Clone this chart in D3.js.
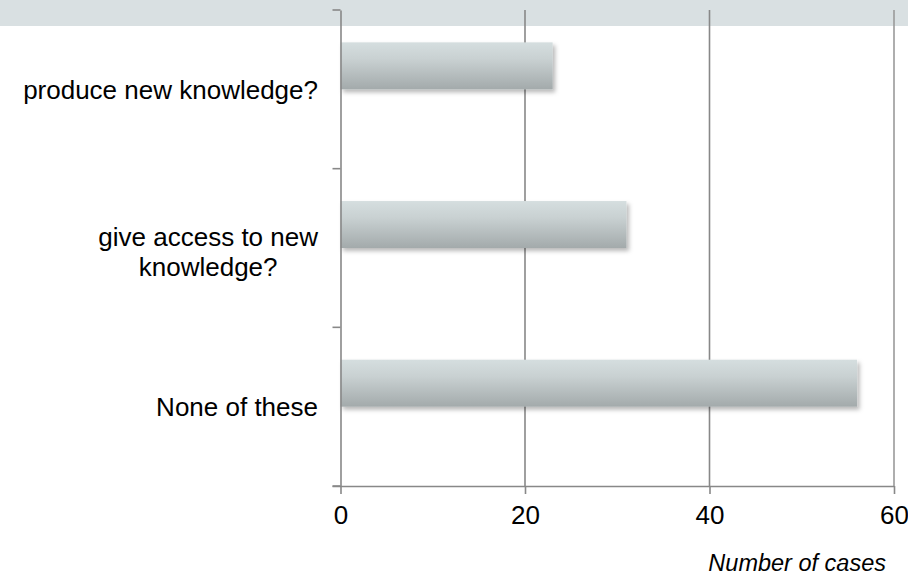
<!DOCTYPE html>
<html>
<head>
<meta charset="utf-8">
<script src="https://cdn.jsdelivr.net/npm/d3@7"></script>
<style>
  html, body { margin: 0; padding: 0; background: #fff; }
  svg { display: block; font-family: "Liberation Sans", Arial, sans-serif; }
</style>
</head>
<body>
<svg id="chart" width="908" height="576"></svg>
<script>
// Survey answers and how many cases gave each
const categories = ["produce new knowledge?", "give access to new knowledge?", "None of these"];
const cases = [23, 31, 56];
const xTicks = [0, 20, 40, 60];
const xTitle = "Number of cases";

const W = 908, H = 576;
const margin = { top: 10, right: 14, bottom: 90, left: 340.5 };

const svg = d3.select("#chart");

// pale header band across the top
svg.append("rect")
  .attr("x", 0).attr("y", 0)
  .attr("width", W).attr("height", 26)
  .attr("fill", "#d9e0e2");

const defs = svg.append("defs");
const grad = defs.append("linearGradient")
  .attr("id", "barFill").attr("x1", 0).attr("y1", 0).attr("x2", 0).attr("y2", 1);
grad.append("stop").attr("offset", "0%").attr("stop-color", "#d5dedf");
grad.append("stop").attr("offset", "35%").attr("stop-color", "#c9d1d2");
grad.append("stop").attr("offset", "100%").attr("stop-color", "#a3aaab");

const shadow = defs.append("filter").attr("id", "barShadow")
  .attr("x", "-5%").attr("y", "-20%").attr("width", "115%").attr("height", "160%");
shadow.append("feDropShadow")
  .attr("dx", 2.5).attr("dy", 3).attr("stdDeviation", 2)
  .attr("flood-color", "#000").attr("flood-opacity", 0.28);

const x = d3.scaleLinear()
  .domain([0, 60])
  .range([margin.left, W - margin.right]);

const y = d3.scaleBand()
  .domain(categories)
  .range([margin.top, H - margin.bottom])
  .padding(0);

const axisColor = "#888888";

// vertical gridlines
svg.append("g")
  .selectAll("line")
  .data(xTicks.filter(d => d > 0))
  .join("line")
  .attr("x1", d => x(d)).attr("x2", d => x(d))
  .attr("y1", margin.top).attr("y2", H - margin.bottom)
  .attr("stroke", d => d === 60 ? "#9a9a9a" : axisColor)
  .attr("stroke-width", 1.6);

// bars sit in the upper part of each category band
const barH = y.bandwidth() * 0.296;
svg.append("g")
  .selectAll("rect")
  .data(categories.map((c, i) => ({ c, v: cases[i] })))
  .join("rect")
  .attr("x", x(0))
  .attr("y", d => y(d.c) + y.bandwidth() / 2 - barH)
  .attr("width", d => x(d.v) - x(0))
  .attr("height", barH)
  .attr("fill", "url(#barFill)")
  .attr("filter", "url(#barShadow)");

// category axis
const yAxis = d3.axisLeft(y).tickSize(0).tickFormat("");
const gy = svg.append("g").attr("transform", `translate(${x(0)},0)`).call(yAxis);
gy.select(".domain").attr("stroke", axisColor).attr("stroke-width", 1.6);
// tick marks on category boundaries
const boundaries = categories.map(c => y(c)).concat([y.range()[1]]);
svg.append("g").selectAll("line").data(boundaries).join("line")
  .attr("x1", x(0) - 8).attr("x2", x(0))
  .attr("y1", d => d).attr("y2", d => d)
  .attr("stroke", axisColor).attr("stroke-width", 1.6);

// category labels, wrapped to two centred lines where long
const labelSize = 26;
const lineH = 29.1;
const labelRight = 318;
const labels = svg.append("g")
  .attr("font-size", labelSize)
  .attr("fill", "#000");
categories.forEach(c => {
  const words = c.split(" ");
  const lines = c.length > 24 ? [words.slice(0, 4).join(" "), words.slice(4).join(" ")] : [c];
  const cy = y(c) + y.bandwidth() / 2;
  const t = labels.append("text")
    .attr("y", cy)
    .attr("text-anchor", lines.length > 1 ? "middle" : "end");
  // measure the widest line so wrapped text stays right-aligned as a block
  let xPos = labelRight;
  if (lines.length > 1) {
    const probe = labels.append("text").text(lines[0]);
    const w = probe.node().getComputedTextLength();
    probe.remove();
    xPos = labelRight - w / 2;
  }
  lines.forEach((ln, i) => {
    t.append("tspan")
      .attr("x", xPos)
      .attr("y", cy + 9.5 + (i - (lines.length - 1) / 2) * lineH + (lines.length > 1 ? 3.5 : 0))
      .text(ln);
  });
});

// value axis
const xAxis = d3.axisBottom(x).tickValues(xTicks).tickSize(8).tickPadding(12).tickSizeOuter(0);
const gx = svg.append("g")
  .attr("transform", `translate(0,${H - margin.bottom})`)
  .call(xAxis);
gx.select(".domain").attr("stroke", axisColor).attr("stroke-width", 1.6)
  .attr("d", `M${x(0) - 8},0.5H${x(60)}`);
gx.selectAll(".tick line").attr("stroke", axisColor).attr("stroke-width", 1.6);
gx.selectAll(".tick text")
  .attr("font-size", 26)
  .attr("font-family", "Liberation Sans, Arial, sans-serif")
  .attr("fill", "#000");

svg.append("text")
  .attr("x", 886).attr("y", 571)
  .attr("text-anchor", "end")
  .attr("font-size", 23.5)
  .attr("font-style", "italic")
  .attr("fill", "#000")
  .text(xTitle);
</script>
</body>
</html>
